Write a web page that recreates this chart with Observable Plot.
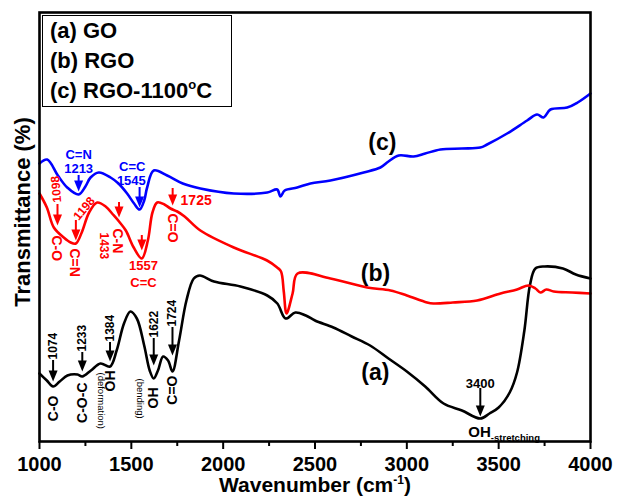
<!DOCTYPE html>
<html>
<head>
<meta charset="utf-8">
<script src="https://cdn.jsdelivr.net/npm/d3@7"></script>
<script src="https://cdn.jsdelivr.net/npm/@observablehq/plot@0.6"></script>
<style>
  html, body { margin: 0; padding: 0; background: #fff; }
  #wrap { position: relative; width: 617px; height: 502px; font-family: "Liberation Sans", Arial, Helvetica, sans-serif; }
  #legend { position: absolute; left: 42px; top: 15px; width: 181px; height: 90px; padding-left: 7px;
    border: 1.5px solid #000; font: bold 22px "Liberation Sans", Arial, sans-serif; line-height: 30px; color: #000; }
  #legend sup { font-size: 13px; line-height: 0; vertical-align: 9px; }
</style>
</head>
<body>
<div id="wrap">
  <div id="chart"></div>
  <div id="legend">
    <div>(a) GO</div>
    <div>(b) RGO</div>
    <div>(c) RGO-1100<sup>o</sup>C</div>
  </div>
</div>
<script>
// ---- Data: [wavenumber (cm-1), transmittance (a.u.)] ----
const GO = [[1000,68],[1040,61],[1074,55],[1110,60],[1152,66],[1207,67],[1233,65],[1280,71],[1332,78],[1384,75],[1420,91],[1460,118],[1495,130],[1530,123],[1570,96],[1600,71],[1622,63],[1645,71],[1673,85],[1700,81],[1724,70],[1760,101],[1800,141],[1840,163],[1873,166],[1950,160],[2094,155],[2240,146],[2295,138],[2340,123],[2393,129],[2450,126],[2500,121],[2600,114],[2700,105],[2800,96],[2900,83],[3000,70],[3100,55],[3200,38],[3300,31],[3400,23],[3450,28],[3500,34],[3560,49],[3600,69],[3640,111],[3670,156],[3700,173],[3750,175],[3850,173],[3920,167],[4000,163]];
const RGO = [[1000,248],[1040,234],[1078,214],[1132,204],[1170,199],[1198,198],[1230,209],[1270,229],[1314,239],[1360,235],[1400,227],[1433,220],[1470,211],[1513,194],[1557,183],[1590,201],[1615,229],[1641,239],[1680,237],[1713,233],[1750,230],[1790,225],[1876,211],[2058,194],[2239,181],[2294,174],[2315,170],[2330,150],[2345,128],[2378,148],[2405,168],[2584,163],[2784,154],[2911,151],[3000,146],[3110,139],[3145,138],[3250,139],[3383,141],[3510,148],[3600,152],[3662,156],[3700,153],[3727,149],[3760,152],[3800,150],[3900,149],[4000,148]];
const RGO1100 = [[1000,278],[1042,282],[1100,266],[1151,254],[1213,247],[1250,255],[1278,264],[1323,269],[1387,264],[1430,258],[1477,248],[1515,238],[1545,232],[1570,241],[1586,254],[1622,271],[1695,266],[1780,258],[1876,253],[2058,248],[2240,249],[2294,252],[2312,245],[2335,251],[2403,254],[2475,258],[2584,261],[2765,269],[2856,274],[2900,280],[2956,286],[3037,285],[3100,288],[3183,292],[3300,293],[3400,294],[3437,297],[3546,308],[3655,321],[3709,327],[3745,324],[3782,332],[3873,334],[3930,339],[4000,348]];

const xTicks = [1000, 1500, 2000, 2500, 3000, 3500, 4000];
const xMinorTicks = [1250, 1750, 2250, 2750, 3250, 3750];

// Arrows: [wavenumber, stem top, arrow tip]
const goArrows = [[1074,81,60],[1233,89,70],[1384,99,80],[1622,103,76],[1724,114,86],[3400,53,25]];
const rgoArrows = [[1098,237,216],[1198,221,201],[1433,239,224],[1557,206,191],[1725,253,236]];
const c1100Arrows = [[1213,266,250],[1545,254,234]];

// Labels: [wavenumber, value, text]
const goNums = [[1074,82,"1074"],[1233,90,"1233"],[1384,100,"1384"],[1622,104,"1622"],[1724,115,"1724"]];
const goBonds = [[1074,46,"C-O"],[1233,59,"C-O-C"],[1384,71,"OH"],[1622,54,"OH"],[1724,66,"C=O"]];
const goNotes = [[1336,69,"(deformation)"],[1550,63,"(bending)"]];
const goStretch = [[3400,58,"3400"]];
const goOH = [[3335,9,"OH"]];
const rgo1098 = [[1098,239,"1098"]];
const rgo1198 = [[1198,223,"1198"]];
const rgo1433 = [[1348,209,"1433"]];
const rgoBonds = [[1091,206,"C-O"],[1190,193,"C=N"],[1425,213,"C-N"],[1725,228,"C=O"]];
const rgoFlat = [[1566,176,"1557"],[1566,159,"C=C"]];
const rgo1725 = [[1768,241,"1725"]];
const c1100Labels = [[1213,287,"C=N"],[1213,273,"1213"],[1505,275,"C=C"],[1500,261,"1545"]];
const seriesLabels = [[2829,69,"(a)"],[2829,168,"(b)"],[2867,299,"(c)"]];

const FONT = "'Liberation Sans', Arial, Helvetica, sans-serif";
const X = d => d[0], Y = d => d[1], T = d => d[2];

const arrowHead = {
  draw(ctx) { ctx.moveTo(0, 0); ctx.lineTo(-4.5, -11); ctx.lineTo(4.5, -11); ctx.closePath(); }
};

function arrows(data, color) {
  return [
    Plot.ruleX(data, {x: X, y1: d => d[1], y2: d => d[2] + 9, stroke: color, strokeWidth: 2}),
    Plot.dot(data, {x: X, y: d => d[2], r: 5, symbol: arrowHead, fill: color, stroke: "none"})
  ];
}
function labels(data, color, opts) {
  return Plot.text(data, {x: X, y: Y, text: T, fill: color, fontWeight: "bold", lineAnchor: "middle", ...opts});
}

const chart = Plot.plot({
  width: 617, height: 502,
  marginLeft: 39, marginRight: 27, marginTop: 12, marginBottom: 61,
  x: {domain: [1000, 4000], label: null},
  y: {domain: [0, 429], axis: null},
  style: {fontFamily: FONT, background: "white", color: "black", overflow: "visible"},
  marks: [
    Plot.line(GO, {x: X, y: Y, stroke: "black", strokeWidth: 2.6, curve: "catmull-rom"}),
    Plot.line(RGO, {x: X, y: Y, stroke: "#ff0000", strokeWidth: 2.6, curve: "catmull-rom"}),
    Plot.line(RGO1100, {x: X, y: Y, stroke: "#0000ff", strokeWidth: 2.6, curve: "catmull-rom"}),

    ...arrows(goArrows, "black"),
    ...arrows(rgoArrows, "#ff0000"),
    ...arrows(c1100Arrows, "#0000ff"),

    labels(goNums, "black", {rotate: -90, textAnchor: "start", fontSize: 12}),
    labels(goBonds, "black", {rotate: -90, textAnchor: "end", fontSize: 14}),
    labels(goNotes, "black", {rotate: 90, textAnchor: "start", fontSize: 9.5, fontWeight: "normal"}),
    labels(goStretch, "black", {fontSize: 13}),
    labels(goOH, "black", {textAnchor: "start", fontSize: 15, className: "ohs"}),

    labels(rgo1098, "#ff0000", {rotate: -95, textAnchor: "start", fontSize: 12}),
    labels(rgo1198, "#ff0000", {rotate: -50, textAnchor: "start", fontSize: 12}),
    labels(rgo1433, "#ff0000", {rotate: 90, textAnchor: "start", fontSize: 12}),
    labels(rgoBonds, "#ff0000", {rotate: 90, textAnchor: "start", fontSize: 14}),
    labels(rgoFlat, "#ff0000", {fontSize: 13}),
    labels(rgo1725, "#ff0000", {textAnchor: "start", fontSize: 14}),

    labels(c1100Labels, "#0000ff", {fontSize: 13}),

    labels(seriesLabels, "black", {fontSize: 23}),

    Plot.axisX({ticks: xMinorTicks, tickSize: 5, strokeWidth: 2, tickFormat: () => ""}),
    Plot.axisX({ticks: xTicks, tickSize: 8, tickPadding: 7, strokeWidth: 2, tickFormat: d => String(d),
      fontSize: 20, fontWeight: "bold", label: null}),
    Plot.text(["Transmittance (%)"], {frameAnchor: "left", textAnchor: "middle", rotate: -90, dx: -17, dy: -15,
      fontSize: 22, fontWeight: "bold", fill: "black"}),
    Plot.text(["Wavenumber (cm-1)"], {frameAnchor: "bottom", textAnchor: "middle", dy: 50, fontSize: 21, fontWeight: "bold",
      fill: "black", className: "xlab"}),
    Plot.frame({stroke: "black", strokeWidth: 2.6})
  ]
});

// superscript / subscript formatting on real text
d3.select(chart).selectAll(".xlab text").each(function () {
  const t = d3.select(this);
  t.text(null);
  t.append("tspan").text("Wavenumber (cm");
  t.append("tspan").attr("dy", -8).attr("font-size", 12).text("-1");
  t.append("tspan").attr("dy", 8).text(")");
});
d3.select(chart).selectAll(".ohs text").each(function () {
  const t = d3.select(this);
  t.text(null);
  t.append("tspan").text("OH");
  t.append("tspan").attr("dy", 4).attr("font-size", 9.5).text("-stretching");
});

document.getElementById("chart").appendChild(chart);
</script>
</body>
</html>
